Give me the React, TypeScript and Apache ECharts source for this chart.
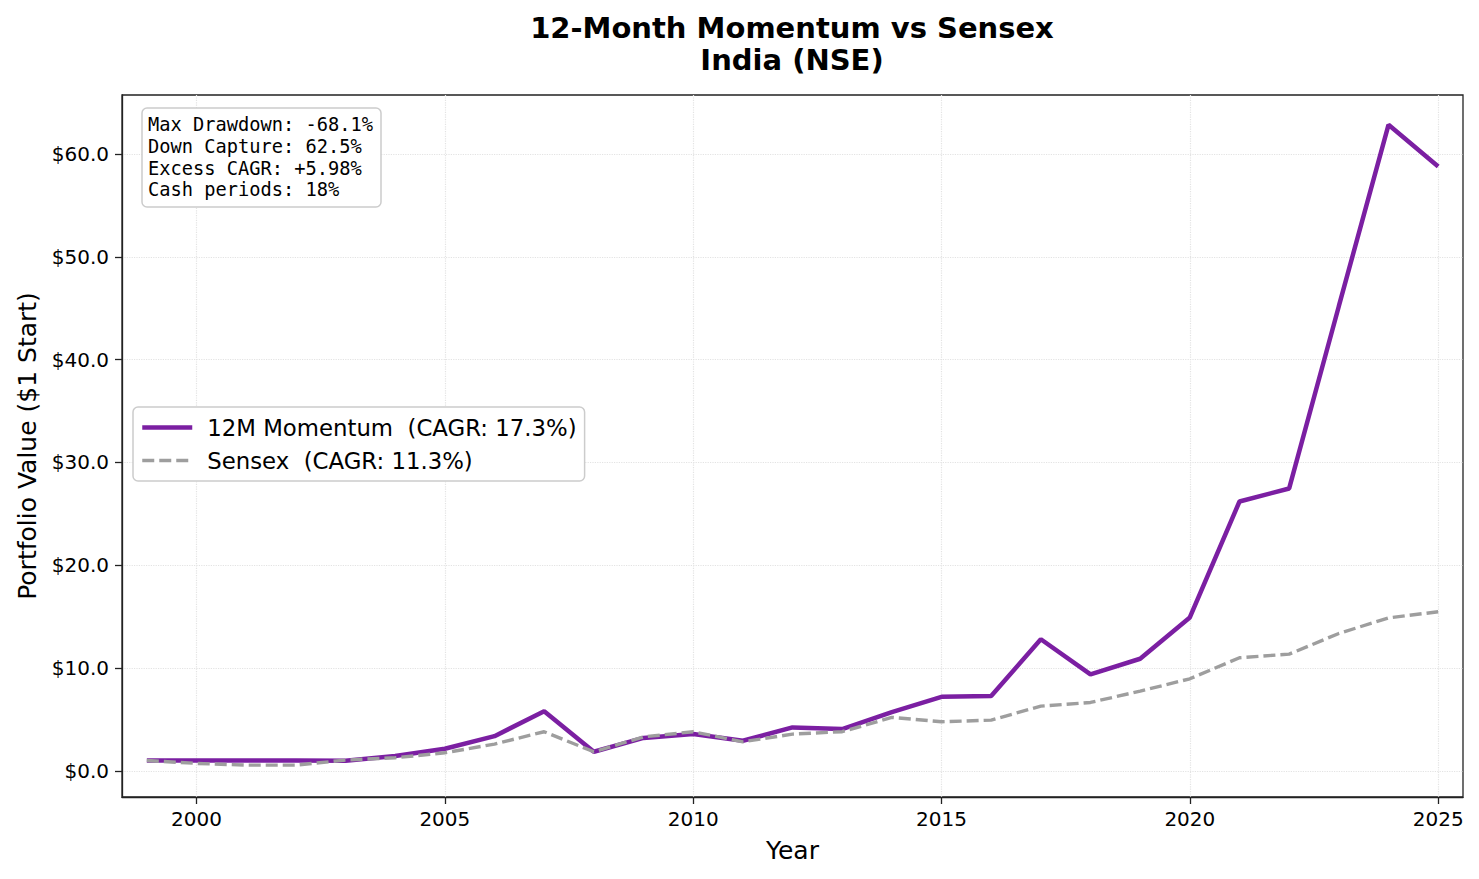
import React, { useEffect, useRef } from 'react';
import * as echarts from 'echarts';

const years = [1999, 2000, 2001, 2002, 2003, 2004, 2005, 2006, 2007, 2008, 2009, 2010, 2011, 2012, 2013, 2014, 2015, 2016, 2017, 2018, 2019, 2020, 2021, 2022, 2023, 2024, 2025];
const momentum = [1.0, 1.0, 1.0, 1.0, 0.98, 1.43, 2.14, 3.37, 5.8, 1.85, 3.2, 3.57, 2.92, 4.22, 4.06, 5.7, 7.2, 7.27, 12.8, 9.38, 10.9, 14.92, 26.2, 27.47, 45.2, 62.85, 58.8];
const sensex = [1.0, 0.72, 0.55, 0.55, 1.04, 1.27, 1.75, 2.6, 3.8, 1.85, 3.3, 3.8, 2.82, 3.57, 3.8, 5.2, 4.77, 4.93, 6.29, 6.65, 7.75, 8.95, 11.0, 11.35, 13.36, 14.88, 15.47];
const xTicks = [2000, 2005, 2010, 2015, 2020, 2025];
const yTicks = [0, 10, 20, 30, 40, 50, 60];
const seriesNames = ['12M Momentum  (CAGR: 17.3%)', 'Sensex  (CAGR: 11.3%)'];
const statLines = ['Max Drawdown: -68.1%', 'Down Capture: 62.5%', 'Excess CAGR: +5.98%', 'Cash periods: 18%'];

const FONT = 'DejaVu Sans';
const PURPLE = '#7B1FA2';
const GREY = '#9E9E9E';

export default function App() {
    const chartRef = useRef<HTMLDivElement>(null);

    useEffect(() => {
        const chart = echarts.init(chartRef.current!, null, { renderer: 'svg' });

        chart.setOption({
            animation: false,
            textStyle: { fontFamily: FONT },
            grid: {
                left: 122,
                right: 16,
                top: 95,
                bottom: 82,
                show: true,
                borderColor: '#222',
                borderWidth: 1.3,
            },
            graphic: [
                {
                    type: 'text',
                    x: 792,
                    y: 28,
                    style: {
                        text: '12-Month Momentum vs Sensex',
                        textAlign: 'center',
                        textVerticalAlign: 'middle',
                        fontFamily: FONT,
                        fontWeight: 'bold',
                        fontSize: 29,
                        fill: '#000',
                    },
                },
                {
                    type: 'text',
                    x: 792,
                    y: 60,
                    style: {
                        text: 'India (NSE)',
                        textAlign: 'center',
                        textVerticalAlign: 'middle',
                        fontFamily: FONT,
                        fontWeight: 'bold',
                        fontSize: 29,
                        fill: '#000',
                    },
                },
                {
                    type: 'rect',
                    shape: { x: 142, y: 108, width: 239, height: 99, r: 5 },
                    style: { fill: '#fff', stroke: '#ccc', lineWidth: 1.5 },
                    z: 10,
                },
                {
                    type: 'text',
                    x: 148,
                    y: 114,
                    z: 11,
                    style: {
                        text: statLines.join('\n'),
                        fontFamily: 'DejaVu Sans Mono',
                        fontSize: 18.7,
                        lineHeight: 21.7,
                        fill: '#000',
                    },
                },
            ],
            legend: {
                orient: 'vertical',
                left: 133,
                top: 407,
                padding: [9, 8, 9, 7],
                itemWidth: 50,
                itemHeight: 24,
                itemGap: 10,
                backgroundColor: '#fff',
                borderColor: '#ccc',
                borderWidth: 1.5,
                borderRadius: 5,
                itemStyle: { opacity: 0 },
                textStyle: { fontFamily: FONT, fontSize: 22.8, color: '#000', padding: [0, 0, 0, 10] },
                data: [
                    { name: seriesNames[0], lineStyle: { color: PURPLE, width: 4.5 } },
                    { name: seriesNames[1], lineStyle: { color: GREY, width: 3.4, type: [12, 5] } },
                ],
            },
            xAxis: {
                type: 'value',
                min: 1998.5,
                max: 2025.5,
                name: 'Year',
                nameLocation: 'middle',
                nameGap: 41,
                nameTextStyle: { fontFamily: FONT, fontSize: 25, color: '#000' },
                axisLine: { show: true, onZero: false, lineStyle: { color: '#222', width: 1.3 } },
                axisTick: { show: true, length: 7, customValues: xTicks, lineStyle: { color: '#222', width: 1.3 } },
                axisLabel: { customValues: xTicks, fontFamily: FONT, fontSize: 20, color: '#000', margin: 12, formatter: (v: number) => String(v) },
                splitLine: { show: true, lineStyle: { color: '#e3e3e3', type: 'dotted', width: 1.2 } },
            },
            yAxis: {
                type: 'value',
                min: -2.55,
                max: 65.75,
                name: 'Portfolio Value ($1 Start)',
                nameLocation: 'middle',
                nameGap: 82,
                nameTextStyle: { fontFamily: FONT, fontSize: 25, color: '#000' },
                axisLine: { show: true, onZero: false, lineStyle: { color: '#222', width: 1.3 } },
                axisTick: { show: true, length: 7, customValues: yTicks, lineStyle: { color: '#222', width: 1.3 } },
                axisLabel: { customValues: yTicks, fontFamily: FONT, fontSize: 20, color: '#000', margin: 13, formatter: (v: number) => '$' + v.toFixed(1) },
                splitLine: { show: true, lineStyle: { color: '#e3e3e3', type: 'dotted', width: 1.2 } },
            },
            series: [
                {
                    name: seriesNames[0],
                    type: 'line',
                    symbol: 'none',
                    z: 3,
                    lineStyle: { color: PURPLE, width: 4.5 },
                    itemStyle: { color: PURPLE },
                    data: years.map((y, i) => [y, momentum[i]]),
                },
                {
                    name: seriesNames[1],
                    type: 'line',
                    symbol: 'none',
                    z: 4,
                    lineStyle: { color: GREY, width: 3.4, type: [12, 5] },
                    itemStyle: { color: GREY },
                    data: years.map((y, i) => [y, sensex[i]]),
                },
            ],
        });

        return () => {
            chart.dispose();
        };
    }, []);

    return <div ref={chartRef} style={{ position: 'fixed', left: 0, top: 0, width: 1479, height: 879, background: '#fff' }} />;
}
